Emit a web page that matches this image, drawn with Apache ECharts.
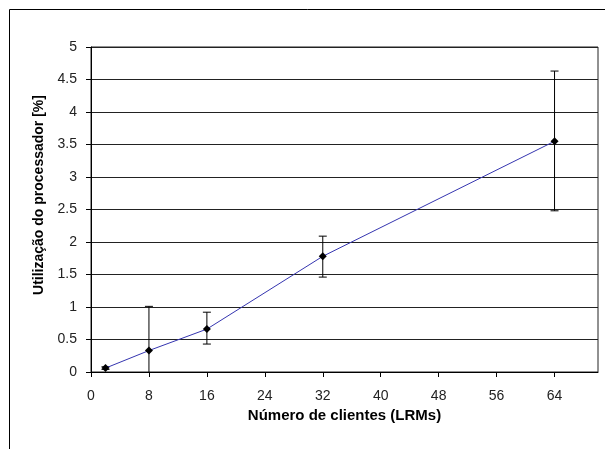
<!DOCTYPE html>
<html><head><meta charset="utf-8">
<script src="https://cdn.jsdelivr.net/npm/echarts@6/dist/echarts.min.js"></script>
<style>html,body{margin:0;padding:0;background:#fff}#c{width:605px;height:449px}</style>
</head><body><div id="c"></div>
<script>
var clients = [2, 8, 16, 32, 64];
var usage = [0.06, 0.33, 0.66, 1.78, 3.55];
var errLow = [0.04, -0.35, 0.43, 1.46, 2.48];
var errHigh = [0.08, 1.01, 0.92, 2.09, 4.63];
var xTicks = [0, 8, 16, 24, 32, 40, 48, 56, 64];
var xTitle = 'Número de clientes (LRMs)';
var yTitle = 'Utilização do processador [%]';

var chart = echarts.init(document.getElementById('c'), null, {renderer: 'canvas'});
var lineData = clients.map(function (c, i) { return [c, usage[i]]; });
var errData = clients.map(function (c, i) { return [c, errLow[i], errHigh[i]]; });
var font = '"Liberation Sans", Arial, sans-serif';

chart.setOption({
  animation: false,
  backgroundColor: '#fff',
  graphic: [
    {type: 'rect', shape: {x: 9.5, y: 9.5, width: 800, height: 600}, style: {fill: 'none', stroke: '#000', lineWidth: 1}, silent: true, z: -10},
    {type: 'text', x: 39, y: 195, rotation: Math.PI / 2,
     style: {text: yTitle, font: 'bold 14px ' + font, fill: '#000', align: 'center', verticalAlign: 'middle'}}
  ],
  grid: {left: 91, top: 47, right: 7, bottom: 77, show: true, borderColor: '#222', borderWidth: 1, containLabel: false},
  xAxis: {
    type: 'value', min: 0, max: 70, interval: 8,
    name: xTitle, nameLocation: 'middle', nameGap: 35,
    nameTextStyle: {fontFamily: font, fontWeight: 'bold', fontSize: 15, color: '#000'},
    axisLine: {onZero: false, lineStyle: {color: '#000', width: 1}},
    axisTick: {show: true, length: 5, customValues: xTicks, lineStyle: {color: '#000'}},
    axisLabel: {customValues: xTicks, margin: 17, fontFamily: font, fontSize: 14, color: '#222'},
    splitLine: {show: false}
  },
  yAxis: {
    type: 'value', min: 0, max: 5, interval: 0.5,
    axisLine: {show: true, lineStyle: {color: '#000', width: 1}},
    axisTick: {show: true, length: 5, lineStyle: {color: '#000'}},
    axisLabel: {margin: 14, fontFamily: font, fontSize: 14, color: '#222'},
    splitLine: {show: true, lineStyle: {color: '#222', width: 1}}
  },
  series: [
    {
      type: 'custom', clip: true, z: 3,
      data: errData,
      renderItem: function (params, api) {
        var x = api.value(0);
        var lo = api.coord([x, api.value(1)]);
        var hi = api.coord([x, api.value(2)]);
        var w = 4;
        return {
          type: 'group',
          children: [
            {type: 'line', shape: {x1: lo[0], y1: lo[1], x2: hi[0], y2: hi[1]}, style: {stroke: '#000', lineWidth: 1}},
            {type: 'line', shape: {x1: lo[0] - w, y1: lo[1], x2: lo[0] + w, y2: lo[1]}, style: {stroke: '#000', lineWidth: 1}},
            {type: 'line', shape: {x1: hi[0] - w, y1: hi[1], x2: hi[0] + w, y2: hi[1]}, style: {stroke: '#000', lineWidth: 1}}
          ]
        };
      }
    },
    {
      type: 'line', data: lineData, z: 4,
      symbol: 'diamond', symbolSize: 8,
      itemStyle: {color: '#000'},
      lineStyle: {color: '#3535b0', width: 1}
    }
  ]
});
</script></body></html>
